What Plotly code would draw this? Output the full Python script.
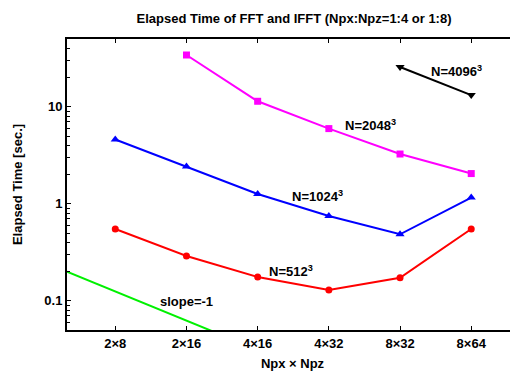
import numpy as np
import plotly.graph_objects as go

# Data
categories = ["2×8", "2×16", "4×16", "4×32", "8×32", "8×64"]
npx_npz = [16, 32, 64, 128, 256, 512]

t512 = [0.55, 0.29, 0.176, 0.129, 0.173, 0.55]
t1024 = [4.6, 2.42, 1.26, 0.75, 0.485, 1.16]
t2048 = [None, 34.2, 11.4, 5.96, 3.26, 2.05]
t4096_x = [256, 512]
t4096 = [25.7, 13.2]
slope_x = [10, 1000]
slope_y = [0.2, 0.002]

FONT = "Liberation Sans, Arial, sans-serif"

# page body has an 8px margin; figure sized so it fits inside the 518x371 window
W, H = 510, 363

fig = go.Figure()
fig.add_trace(go.Scatter(x=slope_x, y=slope_y, mode="lines",
                         line=dict(color="#00f000", width=2), showlegend=False))
fig.add_trace(go.Scatter(x=npx_npz, y=t512, mode="lines+markers",
                         line=dict(color="#ff0000", width=2),
                         marker=dict(symbol="circle", size=7, color="#ff0000"), showlegend=False))
fig.add_trace(go.Scatter(x=npx_npz, y=t1024, mode="lines+markers",
                         line=dict(color="#0000ff", width=2),
                         marker=dict(symbol="triangle-up", size=8, color="#0000ff"), showlegend=False))
fig.add_trace(go.Scatter(x=npx_npz, y=t2048, mode="lines+markers",
                         line=dict(color="#ff00ff", width=2),
                         marker=dict(symbol="square", size=7, color="#ff00ff"), showlegend=False))
fig.add_trace(go.Scatter(x=t4096_x, y=t4096, mode="lines+markers",
                         line=dict(color="#000000", width=2),
                         marker=dict(symbol="triangle-down", size=8, color="#000000"), showlegend=False))

labels = [
    ("N=4096<sup>3</sup>", 2.645, 1.366),
    ("N=2048<sup>3</sup>", 2.285, 0.809),
    ("N=1024<sup>3</sup>", 2.061, 0.077),
    ("N=512<sup>3</sup>", 1.947, -0.696),
    ("slope=-1", 1.507, -1.005),
]
for txt, lx, ly in labels:
    fig.add_annotation(x=lx, y=ly, xref="x", yref="y", text=txt, showarrow=False,
                       font=dict(family=FONT, size=13, color="#000", weight="bold"))

minor_vals = []
for dec in [0.01, 0.1, 1, 10]:
    for m in range(2, 10):
        minor_vals.append(round(m * dec, 4))

fig.update_layout(
    width=W, height=H,
    margin=dict(l=59, r=0, t=31, b=41, autoexpand=False),
    paper_bgcolor="white", plot_bgcolor="white",
    title=dict(text="Elapsed Time of FFT and IFFT (Npx:Npz=1:4 or 1:8)",
               x=286 / W, xanchor="center", y=1 - 10 / H, yanchor="middle",
               font=dict(family=FONT, size=13, color="#000", weight="bold")),
    xaxis=dict(type="log", range=[1, 2.907], tickvals=npx_npz, ticktext=categories,
               automargin=False,
               ticks="inside", ticklen=4, tickcolor="#000", showgrid=False, zeroline=False,
               showline=True, linecolor="#000", linewidth=2, mirror="ticks",
               tickfont=dict(family=FONT, size=13, color="#000", weight="bold"),
               title=dict(text="Npx × Npz", standoff=15,
                          font=dict(family=FONT, size=13, color="#000", weight="bold"))),
    yaxis=dict(type="log", range=[np.log10(0.05), np.log10(50)], tickvals=[0.1, 1, 10],
               ticktext=["0.1", "1", "10"], automargin=False,
               ticks="inside", ticklen=4, tickcolor="#000", showgrid=False, zeroline=False,
               showline=True, linecolor="#000", linewidth=2,
               minor=dict(tickvals=minor_vals, ticks="inside", ticklen=3, tickcolor="#000", showgrid=False),
               tickfont=dict(family=FONT, size=13, color="#000", weight="bold"),
               title=dict(text="Elapsed Time [sec.]", standoff=19,
                          font=dict(family=FONT, size=13, color="#000", weight="bold"))),
)

fig.write_html("out.html")
